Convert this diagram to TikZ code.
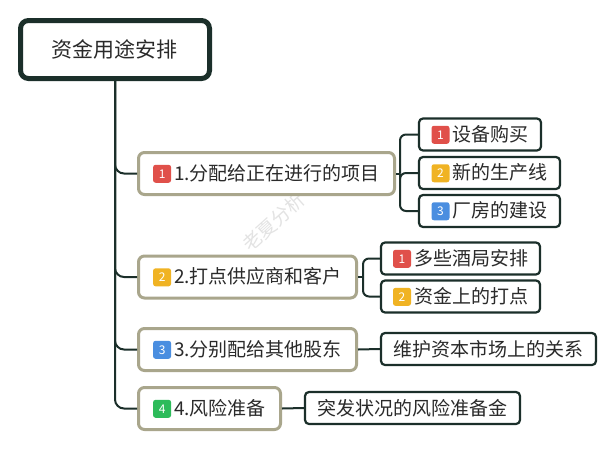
\documentclass[tikz,border=0pt]{standalone}
\usepackage{fontspec}
\newfontfamily\cjk{Noto Sans CJK SC}
\definecolor{darkline}{HTML}{1B2F2A}
\definecolor{olive}{HTML}{A9A68C}
\definecolor{txt}{HTML}{2A2A2A}
\definecolor{bred}{HTML}{E0504A}
\definecolor{bora}{HTML}{F0B323}
\definecolor{bblue}{HTML}{4A8EE0}
\definecolor{bgreen}{HTML}{2DBB5A}
\newcommand{\badge}[2]{\tikz[x=1pt,y=1pt,baseline={([yshift=-6.5pt]bd.center)}]\node[fill=#1,rounded corners=2.5pt,text=white,minimum size=18pt,inner sep=0pt,font=\cjk\fontsize{12}{12}\selectfont] (bd) {#2};}
\begin{document}
\begin{tikzpicture}[x=1pt,y=-1pt,
  rootbox/.style={draw=darkline,line width=5pt,rounded corners=8pt,fill=white,text=txt,
    font=\cjk\fontsize{21}{24}\selectfont,minimum width=189pt,minimum height=58pt,inner sep=0pt},
  lvone/.style={draw=olive,line width=3pt,rounded corners=6pt,fill=white,text=txt,
    font=\cjk\fontsize{19}{22}\selectfont,minimum height=42pt,inner sep=0pt},
  lvtwo/.style={draw=darkline,line width=2.2pt,rounded corners=4pt,fill=white,text=txt,
    font=\cjk\fontsize{19}{22}\selectfont,minimum height=32pt,inner sep=0pt},
  conn/.style={draw=darkline,line width=2pt}]
\useasboundingbox[fill=white] (0,0) rectangle (614,448);
\node[rotate=42,text=gray!22,font=\cjk\fontsize{19}{22}\selectfont] (wm) at (274,222) {老夏分析};
% nodes
\node[rootbox] (root) at (115,49.5) {资金用途安排};
\node[lvone,minimum width=256pt] (n1) at (266.5,173.5) {\badge{bred}{1}\hspace{3pt}1.分配给正在进行的项目};
\node[lvone,minimum width=218pt] (n2) at (247.5,277) {\badge{bora}{2}\hspace{3pt}2.打点供应商和客户};
\node[lvone,minimum width=218pt] (n3) at (247.5,349.5) {\badge{bblue}{3}\hspace{3pt}3.分别配给其他股东};
\node[lvone,minimum width=142pt] (n4) at (209.5,408.5) {\badge{bgreen}{4}\hspace{3pt}4.风险准备};
\node[lvtwo,minimum width=122pt] (c11) at (480,134.5) {\badge{bred}{1}\hspace{3pt}设备购买};
\node[lvtwo,minimum width=141pt] (c12) at (489.5,173) {\badge{bora}{2}\hspace{3pt}新的生产线};
\node[lvtwo,minimum width=141pt] (c13) at (489.5,211) {\badge{bblue}{3}\hspace{3pt}厂房的建设};
\node[lvtwo,minimum width=159pt] (c21) at (460.5,258.5) {\badge{bred}{1}\hspace{3pt}多些酒局安排};
\node[lvtwo,minimum width=159pt] (c22) at (460.5,296.5) {\badge{bora}{2}\hspace{3pt}资金上的打点};
\node[lvtwo,minimum width=215pt] (c31) at (488.5,349) {维护资本市场上的关系};
\node[lvtwo,minimum width=215pt] (c41) at (412.5,408) {突发状况的风险准备金};
% connectors
\coordinate (k1) at (400,173.5);
\coordinate (k2) at (363,277);
\foreach \n in {n1,n2,n3,n4}{\draw[conn,rounded corners=9pt] (root.south) |- (\n.west);}
\draw[conn] (n1.east) -- (k1);
\foreach \c in {c11,c12,c13}{\draw[conn,rounded corners=6pt] (k1) |- (\c.west);}
\draw[conn] (n2.east) -- (k2);
\foreach \c in {c21,c22}{\draw[conn,rounded corners=6pt] (k2) |- (\c.west);}
\draw[conn] (n3.east) -- (c31.west);
\draw[conn] (n4.east) -- (c41.west);
\end{tikzpicture}
\end{document}
